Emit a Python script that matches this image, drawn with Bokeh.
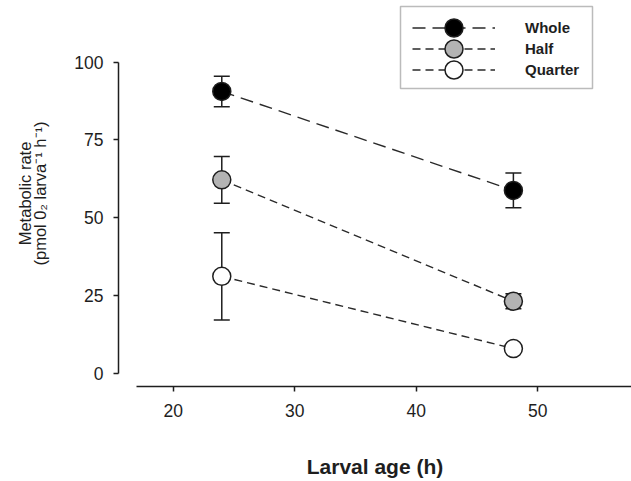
from bokeh.plotting import figure
from bokeh.models import (Range1d, ColumnDataSource, Whisker, TeeHead,
                          Legend, LegendItem, BoxAnnotation)
from bokeh.embed import file_html
from bokeh.resources import INLINE

# ---- data ----
ages = [24, 48]
whole = [90.6, 58.8]
whole_err = [4.9, 5.6]
half = [62.2, 23.2]
half_err = [7.5, 2.4]
quarter = [31.2, 8.0]
quarter_err = [14.0, 1.2]

x_ticks = [20, 30, 40, 50]
y_ticks = [0, 25, 50, 75, 100]

series = [
    ("Whole", whole, whole_err, "black", "13 7"),
    ("Half", half, half_err, "#b3b3b3", "8 5"),
    ("Quarter", quarter, quarter_err, "white", "8 5"),
]

FONT = "Liberation Sans"
INK = "#1e1e1e"

p = figure(width=631, height=481, output_backend="svg", toolbar_location=None,
           x_range=Range1d(15.5, 57.72), y_range=Range1d(-4.18, 119.8),
           min_border_left=118, min_border_right=0, min_border_top=0,
           min_border_bottom=95)
p.outline_line_color = None
p.xgrid.visible = False
p.ygrid.visible = False

# axes
xa = p.xaxis[0]
xa.ticker = x_ticks
xa.bounds = (17, 57.72)
xa.axis_label = "Larval age (h)"
xa.axis_label_text_font = FONT
xa.axis_label_text_font_style = "bold"
xa.axis_label_text_font_size = "21px"
xa.axis_label_text_color = INK
xa.axis_label_standoff = 35
xa.major_label_text_font = FONT
xa.major_label_text_font_size = "17.5px"
xa.major_label_text_color = INK
xa.major_label_standoff = 12
xa.major_tick_out = 5
xa.major_tick_in = 0
xa.minor_tick_out = 0
xa.minor_tick_in = 0
xa.axis_line_width = 1.5
xa.axis_line_color = INK
xa.major_tick_line_width = 1.5
xa.major_tick_line_color = INK

ya = p.yaxis[0]
ya.ticker = y_ticks
ya.bounds = (0, 100)
ya.axis_label = "Metabolic rate\n(pmol 0\u2082 larva\u207b\u00b9 h\u207b\u00b9)"
ya.axis_label_text_font = FONT
ya.axis_label_text_font_style = "normal"
ya.axis_label_text_font_size = "16.5px"
ya.axis_label_text_line_height = 0.85
ya.axis_label_text_color = INK
ya.axis_label_standoff = 22
ya.major_label_text_font = FONT
ya.major_label_text_font_size = "17.5px"
ya.major_label_text_color = INK
ya.major_label_standoff = 10
ya.major_tick_out = 5
ya.major_tick_in = 0
ya.minor_tick_out = 0
ya.minor_tick_in = 0
ya.axis_line_width = 1.5
ya.axis_line_color = INK
ya.major_tick_line_width = 1.5
ya.major_tick_line_color = INK

items = []
for name, vals, errs, fill, dash in series:
    src = ColumnDataSource(dict(
        x=ages, y=vals,
        upper=[v + e for v, e in zip(vals, errs)],
        lower=[v - e for v, e in zip(vals, errs)],
    ))
    w = Whisker(base="x", upper="upper", lower="lower", source=src,
                dimension="height", line_width=1.5, line_color=INK,
                upper_head=TeeHead(size=16, line_width=1.5, line_color=INK),
                lower_head=TeeHead(size=16, line_width=1.5, line_color=INK),
                level="underlay")
    p.add_layout(w)
    lr = p.line("x", "y", source=src, line_color="#2a2a2a", line_width=1.4,
                line_dash=dash)
    sr = p.scatter("x", "y", source=src, size=18, marker="circle",
                   fill_color=fill, line_color=INK, line_width=1.5)
    items.append(LegendItem(label=name, renderers=[lr, sr]))

# legend frame
frame_box = BoxAnnotation(left=400, right=592, top=6, bottom=88,
                          left_units="canvas", right_units="canvas",
                          top_units="canvas", bottom_units="canvas",
                          fill_color="white", fill_alpha=1.0,
                          line_color=INK, line_width=1.5,
                          editable=False)
p.add_layout(frame_box)

# one legend row per series (rows 21 px apart, large legend markers)
row_bottoms = [336, 315, 294]
for item, yb in zip(items, row_bottoms):
    lg = Legend(items=[item], location=(294, yb),
                glyph_width=83, glyph_height=45, label_height=18,
                label_width=57, label_standoff=30, spacing=0, padding=0,
                margin=0,
                label_text_font=FONT, label_text_font_style="bold",
                label_text_font_size="15px", label_text_color=INK,
                border_line_color=None,
                background_fill_alpha=0.0)
    p.add_layout(lg, "center")

open("out.html", "w").write(file_html(p, INLINE))
